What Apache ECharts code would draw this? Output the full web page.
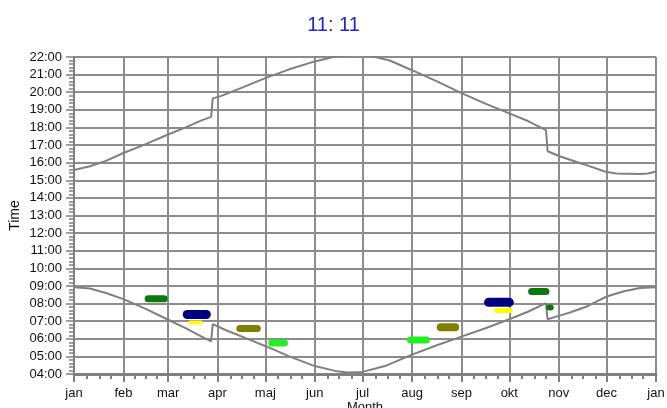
<!DOCTYPE html>
<html><head><meta charset="utf-8">
<script src="https://cdn.jsdelivr.net/npm/echarts@6/dist/echarts.min.js"></script>
<style>html,body{margin:0;padding:0;background:#fff}#c{width:667px;height:408px}</style>
</head><body><div id="c"></div>
<script>
// ---- data ----
const titleText = '11: 11';
const yAxisName = 'Time';
const xAxisName = 'Month';
const monthLabels = ['jan','feb','mar','apr','maj','jun','jul','aug','sep','okt','nov','dec','jan'];
const monthStartDays = [0,31,59,90,120,151,181,212,243,273,304,334,365];
const yMinHour = 4, yMaxHour = 22;

const sunsetDays  = [0,10,20,31,45,59,70,80,86,87,92,105,120,135,151,165,175,185,198,212,228,243,258,273,285,296,297,305,320,333,340,355,360,365];
const sunsetHours = [15.58,15.8,16.1,16.55,17.05,17.6,18.0,18.4,18.6,19.65,19.78,20.25,20.8,21.3,21.75,22.05,22.12,22.08,21.8,21.25,20.6,19.95,19.35,18.8,18.35,17.85,16.65,16.35,15.9,15.5,15.38,15.35,15.38,15.5];

const sunriseDays  = [0,10,20,31,45,59,70,80,86,87,95,110,121,135,151,165,172,181,195,212,228,243,258,273,285,296,297,304,311,322,334,345,355,365];
const sunriseHours = [8.93,8.85,8.6,8.25,7.7,7.08,6.6,6.12,5.85,6.83,6.5,5.95,5.55,5.0,4.45,4.15,4.08,4.12,4.45,5.1,5.65,6.12,6.6,7.11,7.55,8.02,7.11,7.3,7.49,7.85,8.4,8.7,8.88,8.93];

const markStartDays = [46.5,71,73,104,124,211,230,260,265,287,298];
const markEndDays   = [56.5,83,79.5,115,132,221,239,273,273.5,296,299];
const markHours     = [8.27,7.38,6.93,6.59,5.76,5.93,6.65,8.07,7.61,8.69,7.78];

// ---- styles ----
const markColors = ['#0a780a','#000080','#ffff00','#808000','#22f022','#22f022','#808000','#000080','#ffff00','#0a780a','#0a780a'];
const markWidths = [7,9,4,7,7,7,8,9,5,7,6];
const gray = '#808080';

// ---- build ----
const days = [];
for (let d = 0; d <= 365; d++) days.push(String(d));
const monthSet = new Set(monthStartDays);
const minorSet = new Set();
for (let m = 0; m < monthStartDays.length - 1; m++) {
  const a = monthStartDays[m], b = monthStartDays[m+1];
  for (let k = 1; k <= 3; k++) minorSet.add(Math.round(a + k*(b-a)/4));
}
const pad = n => (n < 10 ? '0' : '') + n;

const series = [
  { type:'line', xAxisIndex:0, symbol:'none', data: sunsetDays.map((d,i)=>[d, sunsetHours[i]]),
    lineStyle:{color:gray, width:2}, z:3 },
  { type:'line', xAxisIndex:0, symbol:'none', data: sunriseDays.map((d,i)=>[d, sunriseHours[i]]),
    lineStyle:{color:gray, width:2}, z:3 }
];
markStartDays.forEach((s,i)=>{
  series.push({ type:'line', xAxisIndex:0, symbol:'none',
    data:[[s, markHours[i]],[markEndDays[i], markHours[i]]],
    lineStyle:{color:markColors[i], width:markWidths[i], cap:'round'}, z:4 });
});

const font = 'Liberation Sans, Arial, sans-serif';
const chart = echarts.init(document.getElementById('c'), null, {renderer:'canvas'});
chart.setOption({
  animation:false,
  backgroundColor:'#fff',
  title:{ text:titleText, left:'center', top:10,
    textStyle:{ color:'#2323d2', fontSize:20, fontWeight:'normal', fontFamily:font } },
  grid:{ left:74, right:11, top:57, bottom:34, containLabel:false, outerBoundsMode:'none' },
  xAxis:[
    { type:'value', min:0, max:365, show:false },
    { type:'category', data:days, boundaryGap:false, position:'bottom',
      name:xAxisName, nameLocation:'middle', nameGap:27, nameMoveOverlap:false,
      nameTextStyle:{ color:'#111', fontSize:13, fontFamily:font },
      axisLine:{ show:true, lineStyle:{ color:gray, width:3 } },
      axisTick:{ show:true, interval:(i)=>monthSet.has(i), length:8, lineStyle:{ color:gray, width:2 } },
      axisLabel:{ show:true, interval:(i)=>monthSet.has(i), margin:13,
        formatter:(v,i)=>monthLabels[monthStartDays.indexOf(Number(v))] || '',
        color:'#111', fontSize:13, fontFamily:font },
      splitLine:{ show:true, interval:(i)=>monthSet.has(i), lineStyle:{ color:'#8c8c8c', width:2 } } },
    { type:'category', data:days, boundaryGap:false, position:'bottom',
      axisLine:{ show:false },
      axisTick:{ show:true, interval:(i)=>minorSet.has(i), length:5, lineStyle:{ color:gray, width:2 } },
      axisLabel:{ show:false }, splitLine:{ show:false } }
  ],
  yAxis:{ type:'value', min:yMinHour, max:yMaxHour, interval:1,
    name:yAxisName, nameLocation:'middle', nameGap:52, nameRotate:90, nameMoveOverlap:false,
    nameTextStyle:{ color:'#111', fontSize:14, fontFamily:font },
    axisLine:{ show:true, lineStyle:{ color:gray, width:2 } },
    axisTick:{ show:true, length:8, lineStyle:{ color:gray, width:1.5 } },
    minorTick:{ show:true, splitNumber:5, length:5, lineStyle:{ color:gray, width:1.5 } },
    axisLabel:{ margin:12, formatter:v=>pad(v)+':00', color:'#111', fontSize:13, fontFamily:font },
    splitLine:{ show:true, lineStyle:{ color:'#8c8c8c', width:2 } },
    minorSplitLine:{ show:false } },
  series
});
</script></body></html>
